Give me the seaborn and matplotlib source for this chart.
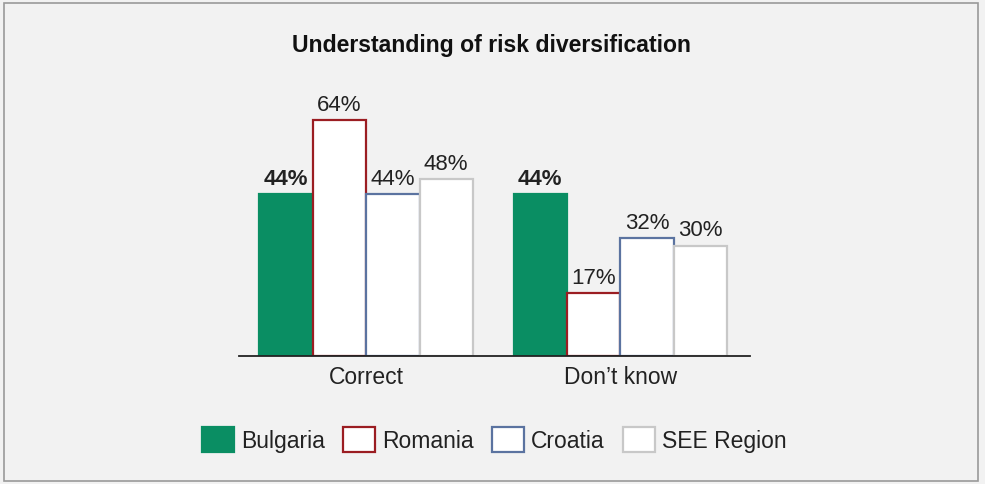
import matplotlib
matplotlib.use("Agg")
import matplotlib.pyplot as plt
import seaborn as sns
import pandas as pd
from matplotlib.patches import Patch, Rectangle

# ---- data ----
categories = ["Correct", "Don\u2019t know"]
countries = ["Bulgaria", "Romania", "Croatia", "SEE Region"]
bulgaria = [44, 44]
romania = [64, 17]
croatia = [44, 32]
see_region = [48, 30]
title = "Understanding of risk diversification"

# ---- styles ----
face_colors = ["#0a8e63", "#ffffff", "#ffffff", "#ffffff"]
edge_colors = ["#0a8e63", "#9b1d22", "#5b73a0", "#c8c8c8"]
bg = "#f2f2f2"

rows = []
for name, vals in zip(countries, [bulgaria, romania, croatia, see_region]):
    for cat, v in zip(categories, vals):
        rows.append({"response": cat, "country": name, "value": v})
df = pd.DataFrame(rows)

sns.set_theme(style="white")
plt.rcParams["font.family"] = ["Liberation Sans", "DejaVu Sans"]

fig = plt.figure(figsize=(9.85, 4.84), dpi=100, facecolor=bg)
ax = fig.add_axes([239 / 985, 128 / 484, 511 / 985, 257.6 / 484])
ax.set_facecolor(bg)

sns.barplot(data=df, x="response", y="value", hue="country",
            order=categories, hue_order=countries,
            palette=face_colors, saturation=1, width=0.84,
            legend=False, ax=ax)

for cont, ec, name in zip(ax.containers, edge_colors, countries):
    for bar in cont:
        bar.set_edgecolor(ec)
        bar.set_linewidth(1.6)
    labels = [f"{v:.0f}%" for v in cont.datavalues]
    ax.bar_label(cont, labels=labels, padding=3, fontsize=16, color="#222222",
                 fontweight="bold" if name == "Bulgaria" else "normal")

ax.set_xlim(-0.5, 1.51)
ax.set_ylim(0, 70)
ax.set_xlabel("")
ax.set_ylabel("")
ax.set_yticks([])
ax.tick_params(axis="x", length=0, pad=7, labelsize=16.5, labelcolor="#222222")
for s in ["top", "right", "left"]:
    ax.spines[s].set_visible(False)
ax.spines["bottom"].set_color("#222222")
ax.spines["bottom"].set_linewidth(1.3)

fig.text(0.4985, 0.907, title, ha="center", va="center",
         fontsize=16.6, fontweight="bold", color="#111111")

handles = [Patch(facecolor=fc, edgecolor=ec, linewidth=1.6, label=n)
           for fc, ec, n in zip(face_colors, edge_colors, countries)]
fig.legend(handles=handles, loc="center", bbox_to_anchor=(0.502, 0.091),
           ncol=4, frameon=False, fontsize=16.5, handlelength=1.4,
           handleheight=1.3, handletextpad=0.3, columnspacing=0.8,
           labelcolor="#222222")

fig.patches.append(Rectangle((4 / 985, 3 / 484), 974 / 985, 478 / 484,
                             transform=fig.transFigure, fill=False,
                             edgecolor="#9a9a9a", linewidth=1.2))

fig.savefig("out.png", dpi=100, facecolor=bg)
